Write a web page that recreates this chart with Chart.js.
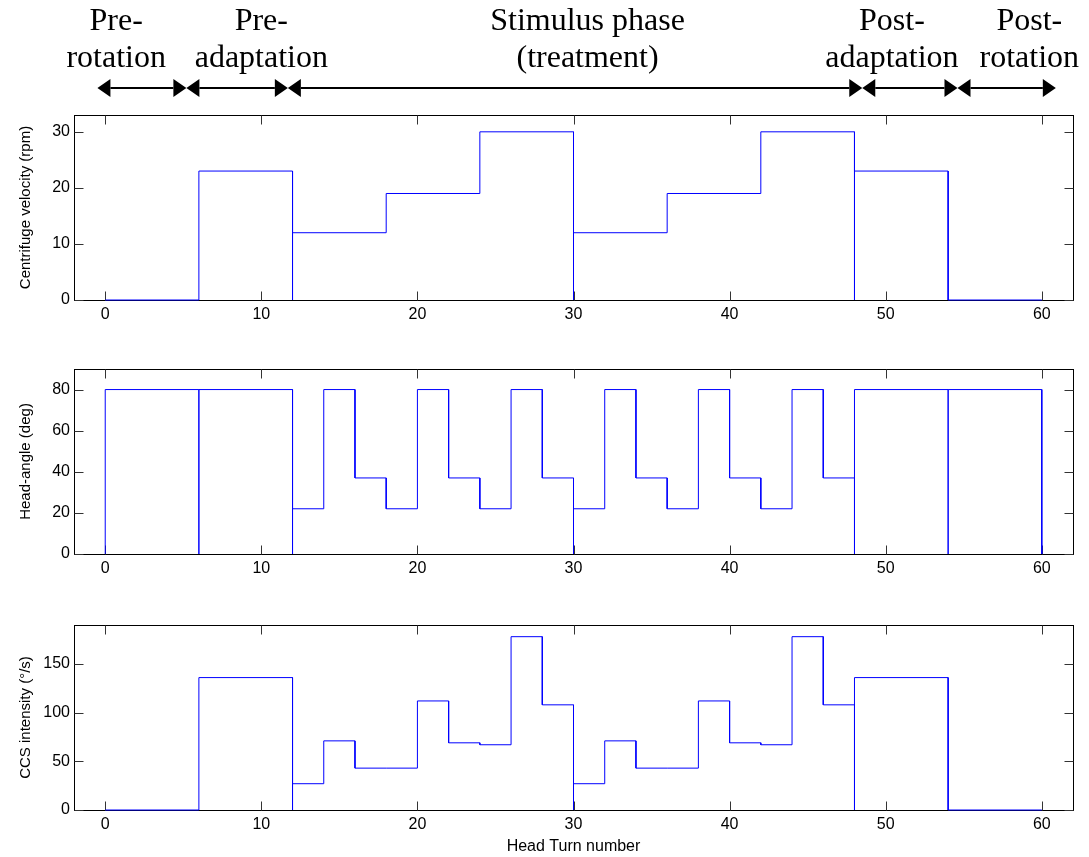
<!DOCTYPE html>
<html>
<head>
<meta charset="utf-8">
<title>Head turn protocol</title>
<script src="https://cdn.jsdelivr.net/npm/chart.js@4.4.1/dist/chart.umd.min.js"></script>
<style>
  body { margin: 0; background: #fff; }
  #wrap { position: relative; width: 1089px; height: 857px; }
  canvas { position: absolute; left: 0; }
</style>
</head>
<body>
<div id="wrap">
  <canvas id="c1" width="1089" height="330" style="top:0px"></canvas>
  <canvas id="c2" width="1089" height="255" style="top:330px"></canvas>
  <canvas id="c3" width="1089" height="272" style="top:585px"></canvas>
</div>
<script>
// step edges (head turn number); a level is held between two consecutive edges
var velEdges = [0, 6, 12, 18, 24, 30, 36, 42, 48, 54, 60];
var velocity = [0, 23, 12, 19, 30, 12, 19, 30, 23, 0];            // rpm

var turnEdges = [0, 6, 12, 14, 16, 18, 20, 22, 24, 26, 28, 30, 32, 34, 36, 38, 40, 42, 44, 46, 48, 54, 60];
var headAngle = [80, 80, 22, 80, 37, 22, 80, 37, 22, 80, 37, 22, 80, 37, 22, 80, 37, 22, 80, 37, 80, 80];   // deg
var ccsIntensity = [0, 136, 27, 71, 43, 43, 112, 69, 67, 178, 108, 27, 71, 43, 43, 112, 69, 67, 178, 108, 136, 0]; // deg/s

// every phase restarts from zero
var phaseStarts = [0, 6, 12, 30, 48, 54];

var xTicks = [0, 10, 20, 30, 40, 50, 60];
var velTicks = [0, 10, 20, 30];
var angleTicks = [0, 20, 40, 60, 80];
var ccsTicks = [0, 50, 100, 150];

var phaseNames = [['Pre-', 'rotation'], ['Pre-', 'adaptation'], ['Stimulus phase', '(treatment)'], ['Post-', 'adaptation'], ['Post-', 'rotation']];
var phaseArrowEdges = [-0.5, 5.2, 11.7, 48.5, 54.6, 60.9];
var phaseLabelAt = [0.7, 10.0, 30.9, 50.4, 59.2];

var SANS = '"Liberation Sans", Arial, Helvetica, sans-serif';

function stairs(edges, levels) {
  var pts = [];
  for (var i = 0; i < levels.length; i++) {
    if (phaseStarts.indexOf(edges[i]) >= 0) pts.push({x: edges[i], y: 0});
    pts.push({x: edges[i], y: levels[i]});
    pts.push({x: edges[i + 1], y: levels[i]});
  }
  pts.push({x: edges[edges.length - 1], y: 0});
  return pts;
}

// box + inward ticks, matlab style
var framePlugin = {
  id: 'frame',
  beforeDatasetsDraw: function(chart) {
    var ctx = chart.ctx, a = chart.chartArea;
    var sx = chart.scales.x, sy = chart.scales.y;
    var L = Math.round(a.left) + 0.5, R = Math.round(a.right) + 0.5;
    var T = Math.round(a.top) + 0.5, B = Math.round(a.bottom) + 0.5;
    ctx.save();
    ctx.strokeStyle = '#000';
    ctx.lineWidth = 1;
    ctx.strokeRect(L, T, R - L, B - T);
    ctx.strokeStyle = '#333';
    ctx.beginPath();
    sx.ticks.forEach(function(t) {
      var px = Math.round(sx.getPixelForValue(t.value)) + 0.5;
      ctx.moveTo(px, B); ctx.lineTo(px, B - 9);
      ctx.moveTo(px, T); ctx.lineTo(px, T + 9);
    });
    sy.ticks.forEach(function(t) {
      var py = Math.round(sy.getPixelForValue(t.value)) + 0.5;
      ctx.moveTo(L, py); ctx.lineTo(L + 9, py);
      ctx.moveTo(R, py); ctx.lineTo(R - 9, py);
    });
    ctx.stroke();
    ctx.restore();
  }
};

// phase names and arrows above the first panel
var phasePlugin = {
  id: 'phases',
  afterDraw: function(chart) {
    var ctx = chart.ctx, sx = chart.scales.x;
    ctx.save();
    ctx.fillStyle = '#000';
    ctx.strokeStyle = '#000';
    ctx.font = '32px "Liberation Serif", "Times New Roman", serif';
    ctx.textAlign = 'center';
    ctx.textBaseline = 'alphabetic';
    phaseNames.forEach(function(lines, i) {
      var cx = sx.getPixelForValue(phaseLabelAt[i]);
      ctx.fillText(lines[0], cx, 30);
      ctx.fillText(lines[1], cx, 67);
    });
    var ay = 88, hl = 13, hw = 9;
    for (var i = 0; i < phaseArrowEdges.length - 1; i++) {
      var x0 = sx.getPixelForValue(phaseArrowEdges[i]);
      var x1 = sx.getPixelForValue(phaseArrowEdges[i + 1]);
      ctx.lineWidth = 2;
      ctx.beginPath();
      ctx.moveTo(x0 + hl, ay); ctx.lineTo(x1 - hl, ay);
      ctx.stroke();
      ctx.beginPath();
      ctx.moveTo(x0, ay); ctx.lineTo(x0 + hl, ay - hw); ctx.lineTo(x0 + hl, ay + hw); ctx.closePath();
      ctx.moveTo(x1, ay); ctx.lineTo(x1 - hl, ay - hw); ctx.lineTo(x1 - hl, ay + hw); ctx.closePath();
      ctx.fill();
    }
    ctx.restore();
  }
};

function makeChart(id, pts, yMax, yTicks, yTitle, topPad, xHeight, xTitle, extraPlugins) {
  return new Chart(document.getElementById(id), {
    type: 'scatter',
    data: {
      datasets: [{
        data: pts,
        showLine: true,
        borderColor: '#0000ff',
        borderWidth: 1,
        pointRadius: 0,
        fill: false,
        tension: 0,
        clip: false
      }]
    },
    options: {
      responsive: false,
      animation: false,
      layout: { padding: { top: topPad, right: 16, left: 0, bottom: 0 } },
      plugins: { legend: { display: false }, tooltip: { enabled: false } },
      scales: {
        x: {
          type: 'linear', min: -2, max: 62,
          grid: { display: false, drawTicks: false }, border: { display: false },
          afterBuildTicks: function(s) { s.ticks = xTicks.map(function(v) { return {value: v}; }); },
          afterFit: function(s) { s.height = xHeight; },
          ticks: { padding: 5, color: '#000', font: { family: SANS, size: 16 } },
          title: {
            display: !!xTitle, text: xTitle || '', color: '#000',
            font: { family: SANS, size: 16 }, padding: { top: 0, bottom: 1 }
          }
        },
        y: {
          type: 'linear', min: 0, max: yMax,
          grid: { display: false, drawTicks: false }, border: { display: false },
          afterBuildTicks: function(s) { s.ticks = yTicks.map(function(v) { return {value: v}; }); },
          afterFit: function(s) { s.width = 74; },
          ticks: { padding: 4, color: '#000', font: { family: SANS, size: 16 } },
          title: {
            display: true, text: yTitle, color: '#000',
            font: { family: SANS, size: 15 }, padding: { top: 17, bottom: 0 }
          }
        }
      }
    },
    plugins: [framePlugin].concat(extraPlugins || [])
  });
}

makeChart('c1', stairs(velEdges, velocity), 33, velTicks, 'Centrifuge velocity (rpm)', 115, 30, null, [phasePlugin]);
makeChart('c2', stairs(turnEdges, headAngle), 90, angleTicks, 'Head-angle (deg)', 39, 31, null);
makeChart('c3', stairs(turnEdges, ccsIntensity), 190, ccsTicks, 'CCS intensity (\u00b0/s)', 40, 47, 'Head Turn number');
</script>
</body>
</html>
